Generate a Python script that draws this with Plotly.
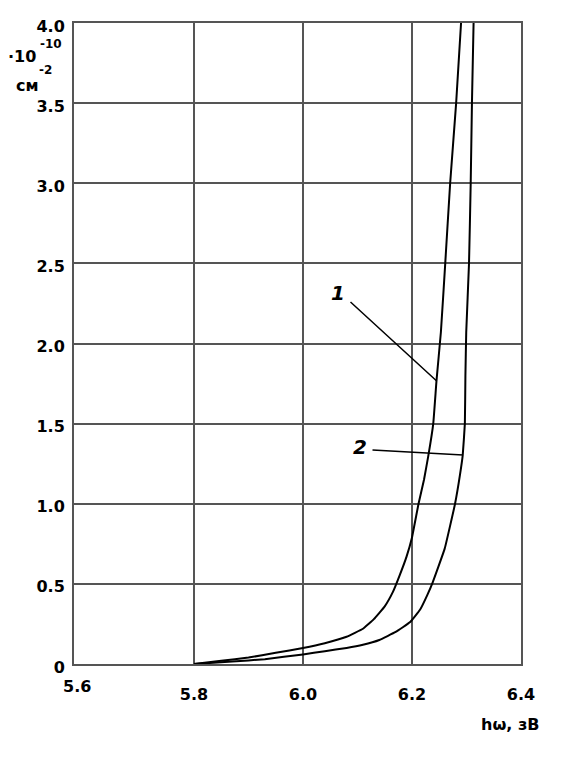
"""Absorption-type curves 1 and 2 vs photon energy (recreated with Plotly)."""

import plotly.graph_objects as go

# curve 1 (left, rises earlier)
x_curve1 = [5.80, 5.85, 5.90, 5.95, 6.00, 6.04, 6.08, 6.11, 6.13, 6.15, 6.165, 6.177,
            6.19, 6.20, 6.212, 6.222, 6.230, 6.239, 6.245, 6.253, 6.261, 6.270, 6.281, 6.290]
y_curve1 = [0.0, 0.02, 0.04, 0.07, 0.10, 0.13, 0.17, 0.22, 0.28, 0.36, 0.45, 0.55,
            0.67, 0.79, 1.0, 1.15, 1.30, 1.5, 1.77, 2.07, 2.5, 3.0, 3.5, 4.0]

# curve 2 (right)
x_curve2 = [5.80, 5.87, 5.93, 6.00, 6.04, 6.08, 6.11, 6.14, 6.17, 6.196, 6.215, 6.228,
            6.238, 6.26, 6.279, 6.288, 6.293, 6.297, 6.298, 6.2995, 6.3046, 6.3077, 6.310, 6.313]
y_curve2 = [0.0, 0.015, 0.03, 0.06, 0.08, 0.10, 0.12, 0.15, 0.20, 0.26, 0.34, 0.43,
            0.51, 0.72, 1.0, 1.18, 1.30, 1.5, 1.8, 2.07, 2.5, 3.0, 3.5, 4.0]

x_ticks = [5.8, 6.0, 6.2, 6.4]
x_ticktext = ["5.8", "6.0", "6.2", "6.4"]
y_ticks = [0, 0.5, 1.0, 1.5, 2.0, 2.5, 3.0, 3.5, 4.0]
y_ticktext = ["0", "0.5", "1.0", "1.5", "2.0", "2.5", "3.0", "3.5", "4.0"]

# points where the leader lines touch the curves
pointer1 = (6.2453, 1.766)
pointer2 = (6.2936, 1.304)

# page has an 8px body margin, so the figure is drawn 8px in from the corner
OFF = 8
W, H = 562 - OFF, 758 - OFF
L, R, T, B = 74, 521, 17, 664  # plot box in window pixels
GRID = "#555555"
FONT = "DejaVu Sans"


def px(xp):
    return (xp - L) / (R - L)


def py(yp):
    return (B - yp) / (B - T)


fig = go.Figure()
for xs, ys in [(x_curve1, y_curve1), (x_curve2, y_curve2)]:
    fig.add_trace(
        go.Scatter(
            x=xs,
            y=ys,
            mode="lines",
            line={"color": "black", "width": 2, "shape": "spline", "smoothing": 0.3},
            showlegend=False,
            hoverinfo="skip",
        )
    )

texts = [
    # (text, x px, y px, size, italic)
    ("5.6", 76.5, 687, 16, False),
    ("·10", 22, 51, 16, False),
    ("-10", 51, 38, 12, False),
    ("-2", 45, 64, 12, False),
    ("см", 27, 80, 16, False),
    ("hω, зВ", 510, 725, 16, False),
    ("1", 338, 290, 20, True),
    ("2", 360, 445, 20, True),
]
for txt, xp, yp, size, italic in texts:
    fig.add_annotation(
        text=f"<i>{txt}</i>" if italic else txt,
        xref="paper",
        yref="paper",
        x=px(xp),
        y=py(yp),
        xanchor="center",
        yanchor="middle",
        showarrow=False,
        borderpad=0,
        font={"family": FONT, "size": size, "color": "black", "weight": "bold"},
    )

# leader lines from the labels to the curves
for (xd, yd), (tx, ty) in [(pointer1, (349, 298)), (pointer2, (371, 448))]:
    tip_x = L + (xd - 5.8) * 545 + 120
    tip_y = B - yd * (B - T) / 4
    fig.add_annotation(
        x=xd,
        y=yd,
        xref="x",
        yref="y",
        ax=tx - tip_x,
        ay=ty - tip_y,
        text="",
        showarrow=True,
        arrowhead=0,
        arrowwidth=1.5,
        arrowcolor="black",
    )

axis_font = {"family": FONT, "size": 16, "color": "black", "weight": "bold"}
fig.update_layout(
    width=W,
    height=H,
    margin={"l": L - OFF, "r": 562 - R, "t": T - OFF, "b": 758 - B},
    plot_bgcolor="white",
    paper_bgcolor="white",
    xaxis={
        "range": [5.8 - 120 / 545, 6.4],
        "tickvals": x_ticks,
        "ticktext": x_ticktext,
        "tickfont": axis_font,
        "showgrid": True,
        "gridcolor": GRID,
        "gridwidth": 2,
        "showline": True,
        "linecolor": GRID,
        "linewidth": 2,
        "mirror": True,
        "zeroline": False,
        "ticklabelstandoff": 15,
    },
    yaxis={
        "range": [0, 4],
        "tickvals": y_ticks,
        "ticktext": y_ticktext,
        "tickfont": axis_font,
        "showgrid": True,
        "gridcolor": GRID,
        "gridwidth": 2,
        "showline": True,
        "linecolor": GRID,
        "linewidth": 2,
        "mirror": True,
        "zeroline": False,
        "ticklabelstandoff": 4,
        "ticklabelshift": 3,
    },
)

fig.write_html("out.html")
